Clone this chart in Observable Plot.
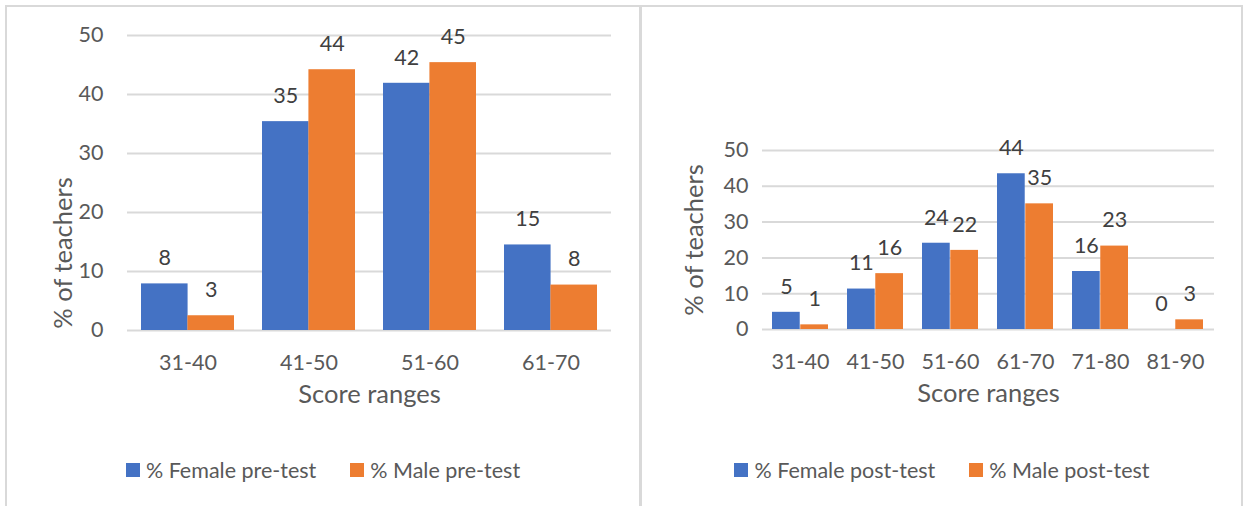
<!DOCTYPE html>
<html>
<head>
<meta charset="utf-8">
<script src="https://cdn.jsdelivr.net/npm/d3@7"></script>
<script src="https://cdn.jsdelivr.net/npm/@observablehq/plot@0.6"></script>
<style>
  body { margin: 0; background: #fff; font-family: Lato, "Open Sans", sans-serif; }
  #wrap { position: relative; width: 1243px; height: 506px; overflow: hidden; background: #fff; }
  .panel { position: absolute; top: 5px; height: 520px; border: 2px solid #d9d9d9; border-bottom: none; box-sizing: border-box; }
  #p1 { left: 5px; width: 636px; }
  #p2 { left: 641px; width: 602px; border-left-width: 1px; }
  .chart { position: absolute; top: 0; }
  .legend { position: absolute; top: 458px; height: 24px; display: flex; justify-content: center; align-items: center; gap: 34px; font-size: 21.5px; color: #595959; font-family: Lato, sans-serif; }
  .item { display: flex; align-items: center; white-space: nowrap; }
  .sw { width: 14px; height: 14px; margin-right: 6px; }
</style>
</head>
<body>
<div id="wrap">
  <div class="panel" id="p1"></div>
  <div class="panel" id="p2"></div>
  <div class="chart" id="c1" style="left:0px;width:640px;"></div>
  <div class="chart" id="c2" style="left:642px;width:600px;"></div>
  <div class="legend" id="l1" style="left:5px;width:636px;"></div>
  <div class="legend" id="l2" style="left:642px;width:600px;"></div>
</div>
<script>
// ---- data ----
const preCategories = ["31-40", "41-50", "51-60", "61-70"];
const preFemale = [7.9, 35.4, 41.9, 14.5];
const preMale = [2.5, 44.2, 45.4, 7.7];
const preSeries = ["% Female pre-test", "% Male pre-test"];

const postCategories = ["31-40", "41-50", "51-60", "61-70", "71-80", "81-90"];
const postFemale = [4.8, 11.3, 24.1, 43.5, 16.2, 0];
const postMale = [1.3, 15.6, 22.1, 35.1, 23.3, 2.7];
const postSeries = ["% Female post-test", "% Male post-test"];

const yTicks = [0, 10, 20, 30, 40, 50];
const xTitle = "Score ranges";
const yTitle = "% of teachers";
const colors = ["#4472C4", "#ED7D31"];

function makeChart(cfg) {
  const {cats, female, male, width, height, ml, mr, mt, mb, pi, po, yPad, yTitleDx, yTitleDy} = cfg;
  const bw = d3.scaleBand().domain(cats).range([ml, width - mr]).paddingInner(pi).paddingOuter(po).bandwidth();
  const fData = cats.map((c, i) => ({cat: c, value: female[i]}));
  const mData = cats.map((c, i) => ({cat: c, value: male[i]}));
  const labelStyle = {fontSize: 21.5, fill: "#404040", dy: -25.5, text: d => String(Math.round(d.value))};
  return Plot.plot({
    width, height,
    marginLeft: ml, marginRight: mr, marginTop: mt, marginBottom: mb,
    style: {fontFamily: "Lato, 'Open Sans', sans-serif", fontSize: "21.5px", color: "#595959", background: "transparent", overflow: "visible"},
    x: {domain: cats, paddingInner: pi, paddingOuter: po, tickSize: 0, tickPadding: 24, label: null},
    y: {domain: [0, 50], ticks: yTicks, tickSize: 0, tickPadding: yPad, label: null, tickFormat: d => String(d)},
    marks: [
      Plot.ruleY(yTicks, {stroke: "#d9d9d9", strokeWidth: 2}),
      Plot.barY(fData, {x: "cat", y: "value", fill: colors[0], insetRight: bw / 2}),
      Plot.barY(mData, {x: "cat", y: "value", fill: colors[1], insetLeft: bw / 2}),
      Plot.text(fData, {x: "cat", y: "value", dx: -bw / 4, ...labelStyle}),
      Plot.text(mData, {x: "cat", y: "value", dx: bw / 4, ...labelStyle}),
      Plot.text([xTitle], {text: d => d, frameAnchor: "bottom", textAnchor: "middle", dy: 72, fontSize: 25.5, fill: "#595959"}),
      Plot.text([yTitle], {text: d => d, frameAnchor: "left", textAnchor: "middle", rotate: -90, dx: yTitleDx, dy: yTitleDy, fontSize: 25.5, fill: "#595959"})
    ]
  });
}

document.getElementById("c1").appendChild(makeChart({
  cats: preCategories, female: preFemale, male: preMale,
  width: 640, height: 420, ml: 127, mr: 29, mt: 35, mb: 90,
  pi: 0.233, po: 0.116, yPad: 24, yTitleDx: -64, yTitleDy: 70
}));
document.getElementById("c2").appendChild(makeChart({
  cats: postCategories, female: postFemale, male: postMale,
  width: 600, height: 420, ml: 120, mr: 28, mt: 150, mb: 91,
  pi: 0.248, po: 0.129, yPad: 14, yTitleDx: -68, yTitleDy: 0
}));

function legend(id, names) {
  const el = document.getElementById(id);
  names.forEach((n, i) => {
    const it = document.createElement("div");
    it.className = "item";
    const sw = document.createElement("span");
    sw.className = "sw";
    sw.style.background = colors[i];
    const tx = document.createElement("span");
    tx.textContent = n;
    it.appendChild(sw); it.appendChild(tx);
    el.appendChild(it);
  });
}
legend("l1", preSeries);
legend("l2", postSeries);
</script>
</body>
</html>
